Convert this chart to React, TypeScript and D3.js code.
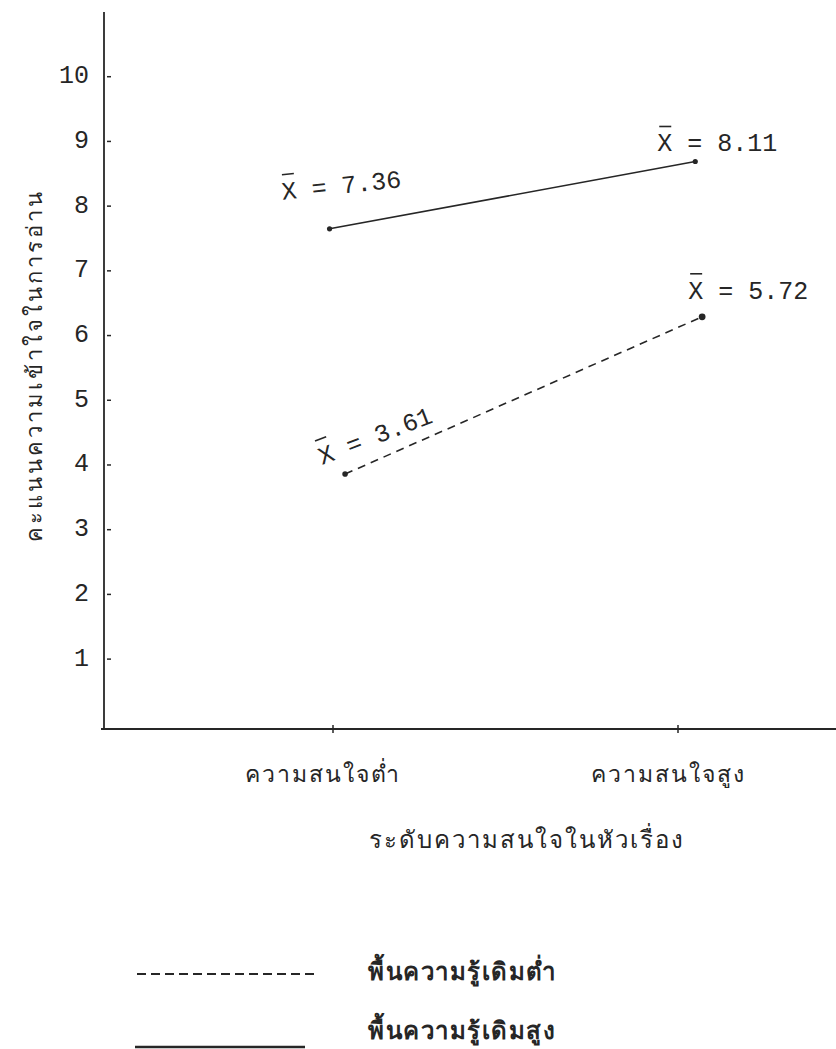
import React from 'react'
import * as d3 from 'd3'

// categories on the x axis (level of interest in the topic)
const categories = ['ความสนใจต่ำ', 'ความสนใจสูง']
// plotted positions of the means as drawn in the figure
const highValues = [7.65, 8.69]
const lowValues = [3.86, 6.29]
// x positions of the plotted points, in category units (0 = low, 1 = high)
const highX = [-0.01, 1.05]
const lowX = [0.035, 1.07]
// printed mean labels
const highLabels = ['7.36', '8.11']
const lowLabels = ['3.61', '5.72']
const yTicks = [1, 2, 3, 4, 5, 6, 7, 8, 9, 10]
const yTitle = 'คะแนนความเข้าใจในการอ่าน'
const xTitle = 'ระดับความสนใจในหัวเรื่อง'
const legendLabels = ['พื้นความรู้เดิมต่ำ', 'พื้นความรู้เดิมสูง']

const width = 836
const height = 1049
const axisX = 104
const mono = '"Liberation Mono", "DejaVu Sans Mono", monospace'
const thai = '"Noto Sans", "DejaVu Sans", sans-serif'
const ink = '#262626'

const App = () => {
    const y = d3.scaleLinear().domain([-0.08, 11]).range([729, 12])
    const x = d3.scaleLinear().domain([0, 1]).range([333, 678])
    const line = d3.line<[number, number]>()
        .x(d => x(d[0]))
        .y(d => y(d[1]))

    const highPts: [number, number][] = highValues.map((v, i) => [highX[i], v])
    const lowPts: [number, number][] = lowValues.map((v, i) => [lowX[i], v])

    // label offsets from each point, plus rotation (as typed on the page)
    const highOff = [{ dx: -47, dy: -29, r: -6 }, { dx: -38, dy: -10, r: 0 }]
    const lowOff = [{ dx: -23, dy: -9, r: -21 }, { dx: -14, dy: -18, r: 0 }]

    const meanLabel = (pt: [number, number], text: string, off: { dx: number, dy: number, r: number }, key: string) => (
        <g key={key} transform={`translate(${x(pt[0]) + off.dx},${y(pt[1]) + off.dy}) rotate(${off.r})`}>
            <line x1={2} x2={14} y1={-25} y2={-25} stroke={ink} strokeWidth={1.6} />
            <text x={0} y={0} fontFamily={mono} fontSize={25} fill={ink}>{`X = ${text}`}</text>
        </g>
    )

    return (
        <div style={{ position: 'absolute', left: 0, top: 0 }}>
            <svg width={width} height={height} style={{ display: 'block', background: '#fff' }}>
                {/* axes */}
                <line x1={axisX} x2={axisX} y1={y(11)} y2={y(-0.08)} stroke={ink} strokeWidth={1.8} />
                <line x1={axisX - 3} x2={width} y1={y(-0.08)} y2={y(-0.08)} stroke={ink} strokeWidth={1.8} />
                {yTicks.map(t => (
                    <g key={t}>
                        <line x1={axisX + 3} x2={axisX + 7} y1={y(t)} y2={y(t)} stroke={ink} strokeWidth={1.5} />
                        <text x={89} y={y(t)} textAnchor="end" dominantBaseline="central"
                            fontFamily={mono} fontSize={25} fill={ink}>{t}</text>
                    </g>
                ))}
                {categories.map((c, i) => (
                    <g key={c}>
                        <line x1={x(i)} x2={x(i)} y1={y(-0.08) - 4} y2={y(-0.08) + 4} stroke={ink} strokeWidth={1.5} />
                        <text x={x(i) - 10} y={782} textAnchor="middle" fontFamily={thai} fontSize={23}
                            letterSpacing={2} fill={ink}>{c}</text>
                    </g>
                ))}
                <text x={527} y={848} textAnchor="middle" fontFamily={thai} fontSize={24}
                    letterSpacing={2} fill={ink}>{xTitle}</text>
                <text transform={`translate(42,365) rotate(-90)`} textAnchor="middle" fontFamily={thai}
                    fontSize={22} letterSpacing={3} fill={ink}>{yTitle}</text>

                {/* series */}
                <path d={line(highPts) ?? ''} fill="none" stroke={ink} strokeWidth={1.6} />
                <path d={line(lowPts) ?? ''} fill="none" stroke={ink} strokeWidth={1.6} strokeDasharray="8 6" />
                {highPts.map((p, i) => <circle key={'h' + i} cx={x(p[0])} cy={y(p[1])} r={2.6} fill={ink} />)}
                {lowPts.map((p, i) => <circle key={'l' + i} cx={x(p[0])} cy={y(p[1])} r={i === 1 ? 3.4 : 2.8} fill={ink} />)}
                {highPts.map((p, i) => meanLabel(p, highLabels[i], highOff[i], 'hl' + i))}
                {lowPts.map((p, i) => meanLabel(p, lowLabels[i], lowOff[i], 'll' + i))}

                {/* legend */}
                <line x1={137} x2={316} y1={974} y2={974} stroke={ink} strokeWidth={2} strokeDasharray="9 5" />
                <text x={368} y={980} fontFamily={thai} fontSize={24} fontWeight={700} letterSpacing={1.5} fill={ink}>{legendLabels[0]}</text>
                <line x1={135} x2={305} y1={1047} y2={1047} stroke={ink} strokeWidth={2.5} />
                <text x={368} y={1039} fontFamily={thai} fontSize={24} fontWeight={700} letterSpacing={1.5} fill={ink}>{legendLabels[1]}</text>
            </svg>
        </div>
    )
}

export default App
